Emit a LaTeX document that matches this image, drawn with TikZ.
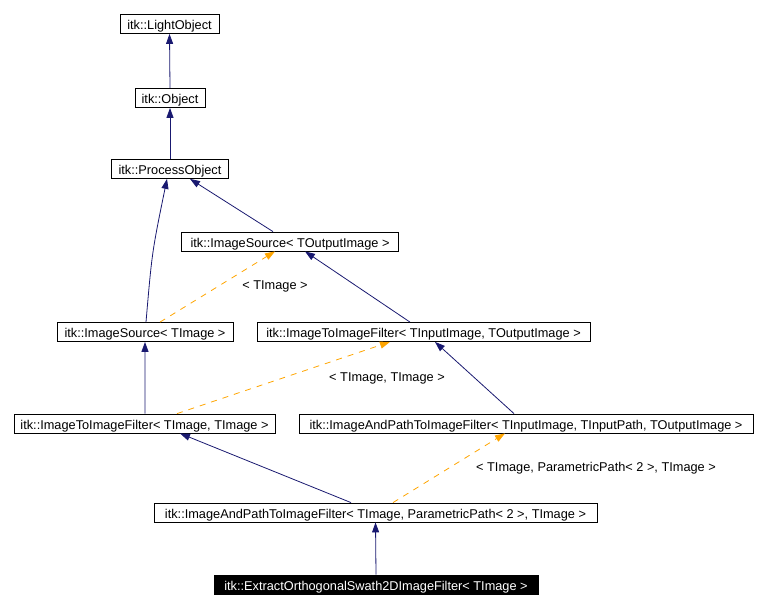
\documentclass[tikz,border=0pt]{standalone}
\usepackage{fontspec}
\setmainfont{Liberation Sans}
\usetikzlibrary{arrows.meta}
\definecolor{navyline}{RGB}{25,25,112}
\definecolor{orangeline}{RGB}{255,165,0}
\tikzset{
  cls/.style={draw=black, line width=0.8bp, fill=white, inner sep=0pt, minimum height=19bp, text height=11bp, text depth=0bp, font=\fontsize{12.8}{14}\selectfont, anchor=center},
  hl/.style={cls, fill=black, text=white},
  inh/.style={draw=navyline, line width=0.8bp, -{Triangle[length=10bp,width=7bp]}},
  tpl/.style={draw=orangeline, line width=0.8bp, dash pattern=on 6bp off 6bp, -{Triangle[length=10bp,width=7bp]}},
  lbl/.style={font=\fontsize{12.8}{14}\selectfont, inner sep=0pt}
}
\begin{document}
\begin{tikzpicture}[x=1bp,y=-1bp]
\useasboundingbox (0,0) rectangle (766,609);
\node[cls, minimum width=99bp] (lo) at (169.5,24) {itk::LightObject};
\node[cls, minimum width=70bp] (ob) at (170,98) {itk::Object};
\node[cls, minimum width=117bp] (po) at (170,169) {itk::ProcessObject};
\node[cls, minimum width=217bp] (isto) at (290,241.5) {itk::ImageSource< TOutputImage >};
\node[cls, minimum width=176bp] (ist) at (145,332) {itk::ImageSource< TImage >};
\node[cls, minimum width=333bp] (iio) at (423.5,332) {itk::ImageToImageFilter< TInputImage, TOutputImage >};
\node[cls, minimum width=261bp] (iit) at (144.5,423.5) {itk::ImageToImageFilter< TImage, TImage >};
\node[cls, minimum width=454bp] (apio) at (526,423.5) {itk::ImageAndPathToImageFilter< TInputImage, TInputPath, TOutputImage >};
\node[cls, minimum width=443bp] (apt) at (375.5,512.5) {itk::ImageAndPathToImageFilter< TImage, ParametricPath< 2 >, TImage >};
\node[hl, minimum width=324bp] (ex) at (376,584.5) {itk::ExtractOrthogonalSwath2DImageFilter< TImage >};

\draw[inh] (ob.north) -- (lo.south);
\draw[inh] (po.north) -- (ob.south);
\draw[inh] ([xshift=-17bp]isto.north) -- ([xshift=20bp]po.south);
\draw[inh] ([xshift=1bp]ist.north) .. controls ([xshift=7bp,yshift=70bp]ist.north) .. ([xshift=-3bp]po.south);
\draw[tpl] ([xshift=15bp]ist.north) -- ([xshift=-15bp]isto.south);
\draw[inh] ([xshift=-13.5bp]iio.north) -- ([xshift=15bp]isto.south);
\draw[inh] ([xshift=0.5bp]iit.north) -- (ist.south);
\draw[tpl] ([xshift=32.5bp]iit.north) -- ([xshift=-33.5bp]iio.south);
\draw[inh] ([xshift=-12bp]apio.north) -- ([xshift=11.5bp]iio.south);
\draw[inh] ([xshift=-24.5bp]apt.north) -- ([xshift=35.5bp]iit.south);
\draw[tpl] ([xshift=17.5bp]apt.north) -- ([xshift=-21bp]apio.south);
\draw[inh] (ex.north) -- (apt.south);

\node[lbl] (l1) at (275,286) {< TImage >};
\node[lbl] (l2) at (387,378) {< TImage, TImage >};
\node[lbl] (l3) at (596,468) {< TImage, ParametricPath< 2 >, TImage >};
\end{tikzpicture}
\end{document}
